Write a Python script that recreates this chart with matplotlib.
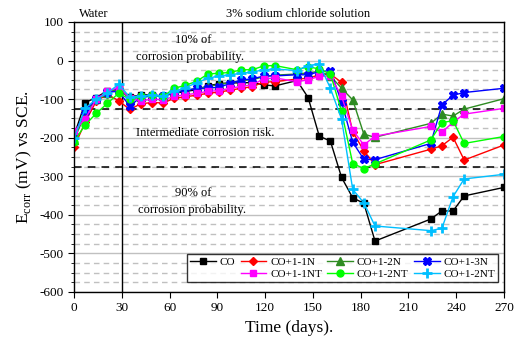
import matplotlib
matplotlib.use('Agg')
import matplotlib.pyplot as plt
from matplotlib.lines import Line2D
from matplotlib.ticker import MultipleLocator

plt.rcParams['font.family'] = 'Liberation Serif'
plt.rcParams['mathtext.fontset'] = 'custom'
plt.rcParams['mathtext.rm'] = 'Liberation Serif'
plt.rcParams['axes.unicode_minus'] = False

# time (days)
days = [0, 7, 14, 21, 28, 35, 42, 49, 56, 63, 70, 77, 84, 91, 98, 105, 112,
        119, 126, 140, 147, 154, 161, 168, 175, 182, 189, 224, 231, 238, 245, 270]

# Ecorr (mV vs SCE)
co = [-195, -109, -96, -78, -75, -95, -89, -89, -92, -85, -80, -76, -66, -60, -58, -58, -57,
      -63, -66, -52, -96, -196, -209, -303, -356, -370, -468, -411, -390, -390, -351, -329]
co_1n = [-225, -160, -105, -88, -104, -127, -112, -109, -110, -98, -94, -90, -85, -82, -77, -72, -68,
         -56, -55, -48, -46, -37, -35, -57, -185, -234, -270, -230, -221, -199, -258, -219]
co_2n = [-205, -140, -100, -85, -72, -100, -95, -92, -92, -82, -78, -72, -68, -62, -58, -52, -50,
         -42, -38, -35, -32, -28, -40, -72, -102, -191, -199, -163, -139, -144, -126, -99]
co_3n = [-195, -130, -100, -82, -80, -118, -95, -92, -92, -82, -78, -72, -72, -69, -60, -50, -48,
         -40, -40, -37, -37, -29, -26, -108, -212, -256, -257, -215, -115, -90, -83, -72]
co_1nt = [-184, -151, -100, -80, -70, -97, -105, -100, -102, -93, -89, -85, -80, -78, -72, -67, -63,
          -48, -45, -55, -50, -41, -40, -93, -180, -219, -196, -171, -186, -160, -139, -124]
co_2nt = [-210, -167, -137, -111, -85, -100, -92, -90, -93, -72, -64, -54, -35, -33, -31, -24, -24,
          -14, -13, -24, -16, -22, -35, -132, -267, -280, -268, -206, -161, -156, -215, -197]
co_2nt_b = [-202, -124, -100, -85, -61, -95, -92, -90, -93, -80, -70, -58, -46, -40, -37, -33, -30,
            -24, -22, -26, -13, -9, -72, -152, -334, -369, -429, -441, -435, -353, -307, -295]

fig = plt.figure(figsize=(5.19, 3.48), dpi=100)
ax = fig.add_axes([0.1426, 0.161, 0.8285, 0.776])

ax.yaxis.set_minor_locator(MultipleLocator(25))
ax.grid(True, which='major', axis='y', color='#c0c0c0', linewidth=1, linestyle='-')
ax.grid(True, which='minor', axis='y', color='#c0c0c0', linewidth=1, linestyle=(0, (4, 3)))
ax.set_axisbelow(True)

ax.axvline(30, color='black', linewidth=1)
ax.axhline(-125, color='black', linewidth=1.1, linestyle=(0, (5, 4)))
ax.axhline(-275, color='black', linewidth=1.1, linestyle=(0, (5, 4)))

ms = 4.5
l1, = ax.plot(days, co, color='black', marker='s', ms=ms, lw=1, label='CO')
l2, = ax.plot(days, co_1n, color='red', marker='D', ms=ms, lw=1, label='CO+1-1N')
l3, = ax.plot(days, co_2n, color='#2e8b22', marker='^', ms=ms + 1, lw=1, label='CO+1-2N')
l4, = ax.plot(days, co_3n, color='blue', marker='X', ms=ms + 1, lw=1, label='CO+1-3N')
l5, = ax.plot(days, co_1nt, color='#ff00ff', marker='s', ms=ms + 0.5, lw=1, label='CO+1-1NT')
l6, = ax.plot(days, co_2nt, color='#00ff00', marker='o', ms=ms + 0.5, lw=1, label='CO+1-2NT')
l7, = ax.plot(days, co_2nt_b, color='#00bfff', marker='+', ms=ms + 3, mew=2, lw=1, label='CO+1-2NT')

blank = Line2D([], [], linestyle='none', marker='')
handles = [l1, blank, l2, l5, l3, l6, l4, l7]
labels = ['CO', '', 'CO+1-1N', 'CO+1-1NT', 'CO+1-2N', 'CO+1-2NT', 'CO+1-3N', 'CO+1-2NT']
leg = ax.legend(handles, labels, ncol=4, loc='lower right', bbox_to_anchor=(0.987, 0.036),
                fontsize=8, frameon=True, fancybox=False, edgecolor='black',
                handlelength=2.3, columnspacing=0.5, handletextpad=0.35,
                borderpad=0.3, labelspacing=0.2, borderaxespad=0)
leg.get_frame().set_linewidth(1)

ax.set_xlim(0, 270)
ax.set_ylim(-600, 100)
ax.set_xticks(range(0, 271, 30))
ax.set_yticks(range(-600, 101, 100))
ax.tick_params(axis='both', which='major', labelsize=9.5, direction='out', length=4)
ax.tick_params(axis='y', which='minor', direction='out', length=2.5)
for s in ax.spines.values():
    s.set_linewidth(1)

ax.set_xlabel('Time (days).', fontsize=12.5)
ax.set_ylabel(r'E$_{\mathrm{corr}}$ (mV) vs SCE.', fontsize=12.5)

fs = 9
ax.text(75, 52, '10% of', ha='center', va='center', fontsize=fs)
ax.text(73, 10, 'corrosion probability.', ha='center', va='center', fontsize=fs)
ax.text(39, -187, 'Intermediate corrosion risk.', ha='left', va='center', fontsize=fs)
ax.text(75, -344, '90% of', ha='center', va='center', fontsize=fs)
ax.text(74, -388, 'corrosion probability.', ha='center', va='center', fontsize=fs)
ax.text(3, 106, 'Water', ha='left', va='bottom', fontsize=fs)
ax.text(141, 106, '3% sodium chloride solution', ha='center', va='bottom', fontsize=fs)

fig.savefig('out.png', dpi=100)
